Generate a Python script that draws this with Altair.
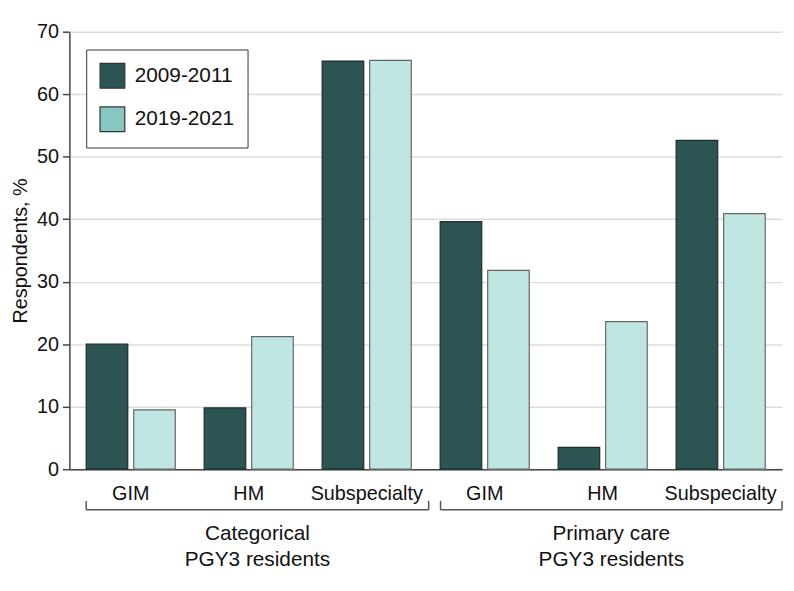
import altair as alt
import pandas as pd

groups = ["Categorical", "Categorical", "Categorical", "Primary care", "Primary care", "Primary care"]
specialties = ["GIM", "HM", "Subspecialty", "GIM", "HM", "Subspecialty"]
periods = ["2009-2011", "2019-2021"]
v2009 = [20.0, 9.8, 65.3, 39.6, 3.5, 52.6]
v2019 = [9.5, 21.2, 65.4, 31.8, 23.6, 40.9]
group_lines = {"Categorical": ["Categorical", "PGY3 residents"],
               "Primary care": ["Primary care", "PGY3 residents"]}

rows = []
for g, s, a, b in zip(groups, specialties, v2009, v2019):
    key = f"{g}|{s}"
    rows.append({"key": key, "period": periods[0], "value": a})
    rows.append({"key": key, "period": periods[1], "value": b})
df = pd.DataFrame(rows)
keys = [f"{g}|{s}" for g, s in zip(groups, specialties)]

FONT = "Liberation Sans"
DARK = "#2b5453"
LIGHT_BAR = "#c0e6e4"
LIGHT_LEG = "#88c6c2"

xenc = alt.X("key:N", sort=keys, title=None,
             scale=alt.Scale(paddingInner=0.245, paddingOuter=0.1426),
             axis=alt.Axis(labelExpr="split(datum.label, '|')[1]", ticks=False,
                           labelFontSize=20, labelFont=FONT, labelColor="#111",
                           labelPadding=15, domainColor="#444", domainWidth=1.5,
                           labelAngle=0))
yenc = alt.Y("value:Q", title="Respondents, %",
             scale=alt.Scale(domain=[0, 70], nice=False),
             axis=alt.Axis(values=list(range(0, 71, 10)), grid=True, gridColor="#dcdcdc",
                           gridWidth=1.5, domainColor="#444", domainWidth=1.5,
                           tickColor="#444", tickWidth=1.5, tickSize=7,
                           labelFontSize=20, labelFont=FONT, labelColor="#111",
                           labelPadding=4, titleFontSize=20, titleFont=FONT,
                           titleFontWeight="normal", titleColor="#111", titlePadding=6))

bars = alt.Chart(df).mark_bar(strokeWidth=1.2).encode(
    x=xenc, y=yenc,
    xOffset=alt.XOffset("period:N", sort=periods,
                        scale=alt.Scale(paddingInner=0.125, paddingOuter=0)),
    color=alt.Color("period:N", sort=periods,
                    scale=alt.Scale(domain=periods, range=[DARK, LIGHT_BAR]), legend=None),
    stroke=alt.Stroke("period:N", scale=alt.Scale(domain=periods, range=["#1d2b2b", "#666666"]),
                      legend=None),
)

leg = alt.Chart(df).mark_square(size=0, stroke="#333", strokeWidth=1.2, opacity=1).encode(
    x=alt.X("key:N", sort=keys),
    y=alt.Y("value:Q"),
    color=alt.Color("period:N", sort=periods,
                    scale=alt.Scale(domain=periods, range=[DARK, LIGHT_LEG]),
                    legend=alt.Legend(title=None, orient="none", legendX=17, legendY=18,
                                      padding=13, strokeColor="#333", fillColor="white",
                                      symbolType="square", symbolSize=625,
                                      symbolStrokeColor="#333", symbolStrokeWidth=1.2,
                                      labelFontSize=21, labelFont=FONT, labelColor="#111",
                                      labelOffset=9, rowPadding=13)),
)

br_df = pd.DataFrame({
    "x": [17, 375], "x2": [363, 720],
})
h_rule = alt.Chart(br_df).mark_rule(color="#555", strokeWidth=1.5).encode(
    x=alt.X("x:Q", scale=None), x2="x2:Q", y=alt.value(483))
l_tick = alt.Chart(br_df).mark_rule(color="#555", strokeWidth=1.5).encode(
    x=alt.X("x:Q", scale=None), y=alt.value(474), y2=alt.value(483))
r_tick = alt.Chart(br_df).mark_rule(color="#555", strokeWidth=1.5).encode(
    x=alt.X("x2:Q", scale=None), y=alt.value(474), y2=alt.value(483))

lab_df = pd.DataFrame({"cx": [190, 547.5],
                       "lines": [group_lines["Categorical"], group_lines["Primary care"]]})
glabels = alt.Chart(lab_df).mark_text(fontSize=21, font=FONT, color="#111", baseline="top",
                                      align="center", lineHeight=26).encode(
    x=alt.X("cx:Q", scale=None), y=alt.value(497), text="lines")

chart = alt.layer(bars, leg, h_rule, l_tick, r_tick, glabels).resolve_scale(
    color="independent", x="shared"
).properties(
    width=720, height=442,
    autosize=alt.AutoSizeParams(type="none"),
    padding={"left": 62, "top": 21, "right": 4, "bottom": 110},
).configure_view(stroke=None)

chart.save("out.html", embed_options={"renderer": "svg", "actions": False})
